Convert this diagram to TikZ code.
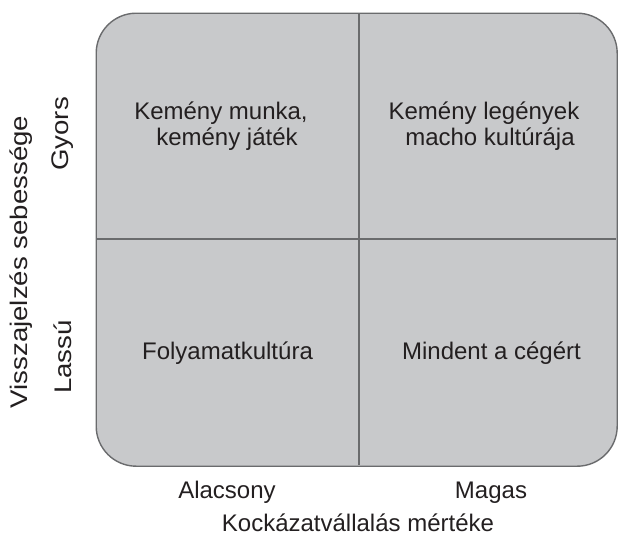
\documentclass[tikz,border=0pt]{standalone}
\usepackage{fontspec}
\setmainfont{Liberation Sans}
\definecolor{cellfill}{HTML}{C8C9CB}
\definecolor{rim}{HTML}{6A6B6D}
\definecolor{inkgray}{HTML}{231F20}
\begin{document}
\begin{tikzpicture}[x=1pt,y=-1pt,
  lbl/.style={font=\fontsize{24}{26}\selectfont, text=inkgray, inner sep=0pt, anchor=base},
  vlbl/.style={font=\fontsize{24}{26}\selectfont, text=inkgray, inner sep=0pt, rotate=90, xscale=1.15},
  divider/.style={draw=rim, line width=2pt}]
\useasboundingbox (0,0) rectangle (618,536);
% matrix frame
\node[draw=rim, line width=1.4pt, fill=cellfill, rounded corners=40pt,
      minimum width=521pt, minimum height=453pt, inner sep=0pt, anchor=north west]
      (frame) at (95.5,12.5) {};
\coordinate (vtop) at (358.5,13.2);
\coordinate (vbot) at (358.5,465);
\coordinate (hleft) at (96.2,238.5);
\coordinate (hright) at (616.3,238.5);
\draw[divider] (vtop) -- (vbot);
\draw[divider] (hleft) -- (hright);
% quadrant labels
\node[lbl] (q1a) at (221,119) {Kemény munka,};
\node[lbl] (q1b) at (227,145) {kemény játék};
\node[lbl] (q2a) at (484,119) {Kemény legények};
\node[lbl] (q2b) at (490,145) {macho kultúrája};
\node[lbl] (q3) at (227.5,359) {Folyamatkultúra};
\node[lbl] (q4) at (491.5,359) {Mindent a cégért};
% axis labels
\node[lbl] (xlo) at (227,498) {Alacsony};
\node[lbl] (xhi) at (491,498) {Magas};
\node[lbl] (xaxis) at (358,531) {Kockázatvállalás mértéke};
\node[vlbl] (yhi) at (63,134) {Gyors};
\node[vlbl] (ylo) at (63,357) {Lassú};
\node[vlbl] (yaxis) at (21,262) {Visszajelzés sebessége};
\end{tikzpicture}
\end{document}
